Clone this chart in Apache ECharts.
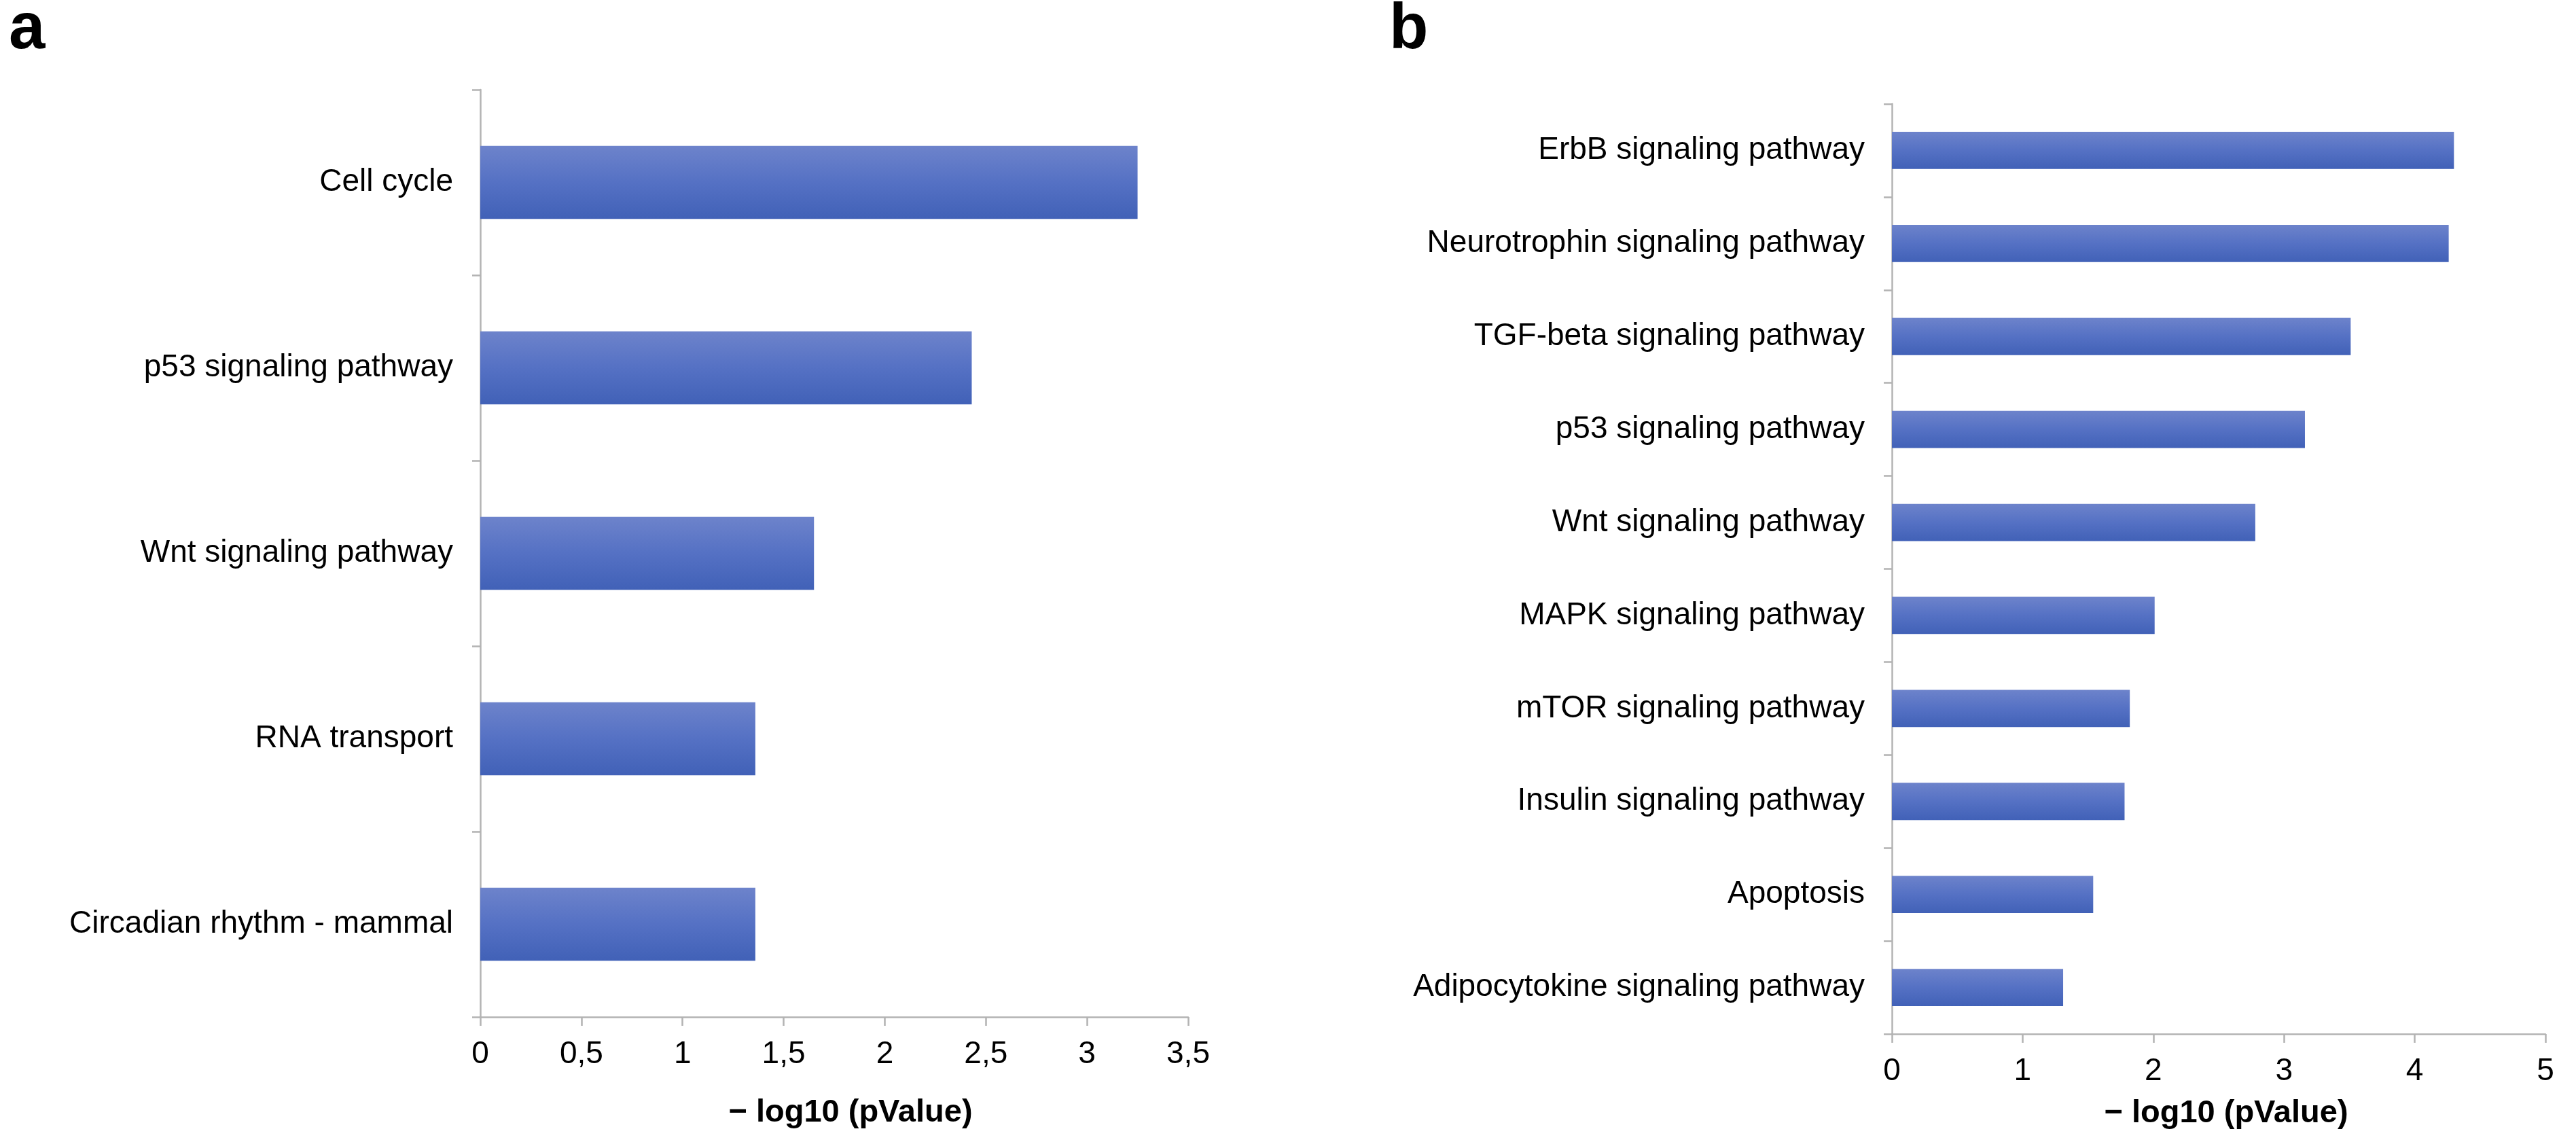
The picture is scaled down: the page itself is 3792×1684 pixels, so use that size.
<!DOCTYPE html>
<html>
<head>
<meta charset="utf-8">
<script src="https://cdn.jsdelivr.net/npm/echarts@6/dist/echarts.min.js"></script>
<style>
html,body{margin:0;padding:0;background:#fff;}
#chart{width:3792px;height:1684px;}
</style>
</head>
<body>
<div id="chart"></div>
<script>
// Panel a data
const categoriesA = ['Cell cycle', 'p53 signaling pathway', 'Wnt signaling pathway', 'RNA transport', 'Circadian rhythm - mammal'];
const valuesA = [3.25, 2.43, 1.65, 1.36, 1.36];
const tickLabelsA = ['0', '0,5', '1', '1,5', '2', '2,5', '3', '3,5'];

// Panel b data
const categoriesB = ['ErbB signaling pathway', 'Neurotrophin signaling pathway', 'TGF-beta signaling pathway', 'p53 signaling pathway', 'Wnt signaling pathway', 'MAPK signaling pathway', 'mTOR signaling pathway', 'Insulin signaling pathway', 'Apoptosis', 'Adipocytokine signaling pathway'];
const valuesB = [4.30, 4.26, 3.51, 3.16, 2.78, 2.01, 1.82, 1.78, 1.54, 1.31];
const tickLabelsB = ['0', '1', '2', '3', '4', '5'];

const axisName = '\u2212 log10 (pValue)';
const FONT = '"Liberation Sans", Arial, Helvetica, sans-serif';
const axisGray = '#b3b3b3';

const barColor = new echarts.graphic.LinearGradient(0, 0, 0, 1, [
  {offset: 0, color: '#6d83cb'},
  {offset: 0.5, color: '#5571c4'},
  {offset: 1, color: '#4161b7'}
]);

function yAxisCfg(gridIndex, cats) {
  return {
    type: 'category', gridIndex: gridIndex, data: cats, inverse: true,
    axisLine: {show: true, lineStyle: {color: axisGray, width: 2.5}},
    axisTick: {show: true, length: 12, lineStyle: {color: axisGray, width: 2.5}},
    axisLabel: {fontSize: 46, color: '#000', fontFamily: FONT, margin: 40},
    splitLine: {show: false}
  };
}
function xAxisCfg(gridIndex, max, interval, labels, nameGap, shift) {
  return {
    type: 'value', gridIndex: gridIndex, min: 0, max: max, interval: interval,
    name: axisName, nameLocation: 'middle', nameGap: nameGap,
    nameTextStyle: {fontSize: 47, fontWeight: 'bold', color: '#000', fontFamily: FONT, padding: [0, 0, 0, shift]},
    axisLine: {show: true, lineStyle: {color: axisGray, width: 2.5}},
    axisTick: {show: true, length: 13, lineStyle: {color: axisGray, width: 2.5}},
    axisLabel: {fontSize: 46, color: '#000', fontFamily: FONT, margin: 32,
      formatter: function (v) { return labels[Math.round(v / interval)]; }},
    splitLine: {show: false}
  };
}

const chart = echarts.init(document.getElementById('chart'), null, {renderer: 'canvas'});
chart.setOption({
  animation: false,
  backgroundColor: '#ffffff',
  grid: [
    {left: 707, right: 3792 - 1749, top: 132, bottom: 1684 - 1497, outerBoundsMode: 'none', containLabel: false},
    {left: 2785, right: 3792 - 3747, top: 153, bottom: 1684 - 1522, outerBoundsMode: 'none', containLabel: false}
  ],
  xAxis: [
    xAxisCfg(0, 3.5, 0.5, tickLabelsA, 118, 48),
    xAxisCfg(1, 5, 1, tickLabelsB, 94, 22)
  ],
  yAxis: [
    yAxisCfg(0, categoriesA),
    yAxisCfg(1, categoriesB)
  ],
  series: [
    {type: 'bar', xAxisIndex: 0, yAxisIndex: 0, data: valuesA, barWidth: '39.3%', itemStyle: {color: barColor}, silent: true},
    {type: 'bar', xAxisIndex: 1, yAxisIndex: 1, data: valuesB, barWidth: '40%', itemStyle: {color: barColor}, silent: true}
  ],
  graphic: [
    {type: 'text', x: 13, y: 45, style: {text: 'a', font: 'bold 96px ' + FONT, fill: '#000', textVerticalAlign: 'middle'}},
    {type: 'text', x: 2045, y: 45, style: {text: 'b', font: 'bold 94px ' + FONT, fill: '#000', textVerticalAlign: 'middle'}}
  ]
});
</script>
</body>
</html>
